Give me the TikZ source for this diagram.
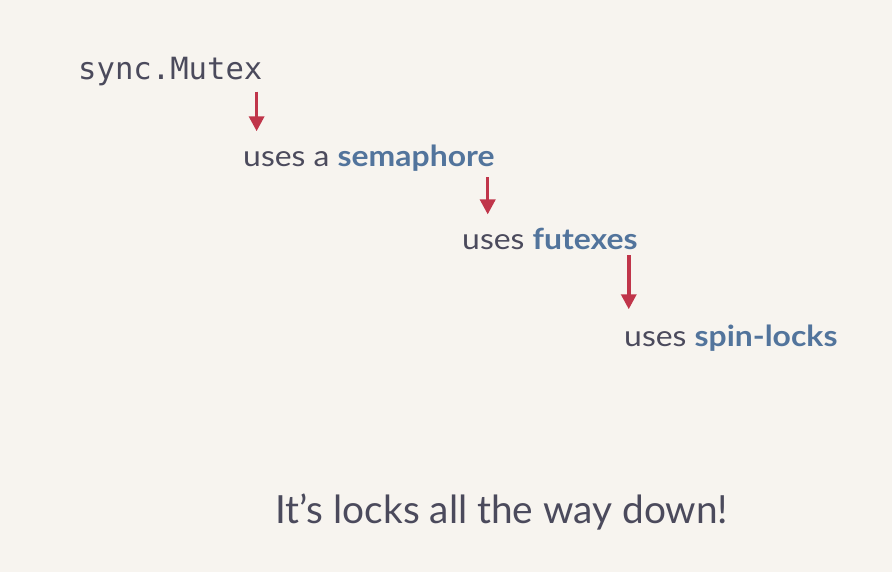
\documentclass[tikz,border=0pt]{standalone}
\usepackage{fontspec}
\setmainfont{Lato}
\setmonofont{DejaVu Sans Mono}
\newfontfamily\widesans{Lato}[FakeStretch=1.1]
\usetikzlibrary{arrows.meta}
\definecolor{paper}{HTML}{F7F4EF}
\definecolor{ink}{HTML}{4B4A5C}
\definecolor{hilite}{HTML}{52749C}
\definecolor{arrowred}{HTML}{C0354A}

\begin{document}
\begin{tikzpicture}[x=1pt, y=-1pt,
  word/.style={anchor=base west, inner sep=0pt, text=ink, font=\widesans\fontsize{29}{34}\selectfont},
  usearrow/.style={draw=arrowred, line width=3.5pt, -{Triangle[length=15pt, width=15pt]}}]
  % Background
  \fill[paper] (0,0) rectangle (892,572);
  \useasboundingbox (0,0) rectangle (892,572);

  % Chain of locks
  \node[word, font=\ttfamily\fontsize{30.6}{36}\selectfont] (mutex) at (78,80) {sync.Mutex};
  \node[word] (sema) at (243,167) {uses a \textbf{\color{hilite}semaphore}};
  \node[word] (futex) at (462,250) {uses \textbf{\color{hilite}futexes}};
  \node[word] (spin) at (624,346) {uses \textbf{\color{hilite}spin-locks}};

  % Arrows between the steps
  \draw[usearrow] ([xshift=-6pt, yshift=-5pt]mutex.south east) -- ([xshift=-6pt, yshift=14pt]sema.north -| mutex.east);
  \draw[usearrow] ([xshift=-7pt, yshift=-5pt]sema.south east) -- ([xshift=-7pt, yshift=14pt]futex.north -| sema.east);
  \draw[usearrow] ([xshift=-9pt, yshift=-5pt]futex.south east) -- ([xshift=-9pt, yshift=15pt]spin.north -| futex.east);

  % Punch line
  \node[word, font=\rmfamily\fontsize{38.8}{46}\selectfont] (motto) at (275,523) {It’s locks all the way down!};
\end{tikzpicture}
\end{document}
